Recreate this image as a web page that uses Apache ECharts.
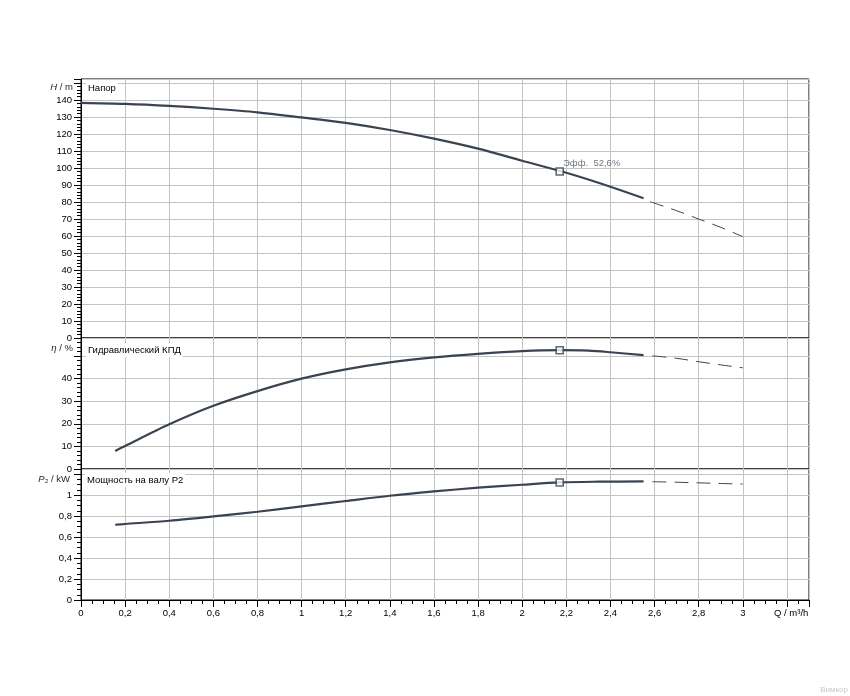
<!DOCTYPE html>
<html>
<head>
<meta charset="utf-8">
<script src="https://cdn.jsdelivr.net/npm/echarts@6/dist/echarts.min.js"></script>
<style>
html,body{margin:0;padding:0;background:#fff;}
#chart{width:850px;height:696px;}
</style>
</head>
<body>
<div id="chart"></div>
<script>
// ---- data ----
const qHead = [0, 0.2, 0.4, 0.6, 0.8, 1.0, 1.2, 1.4, 1.6, 1.8, 2.0, 2.2, 2.4, 2.55];
const head = [138.4, 137.8, 136.6, 134.9, 132.8, 129.8, 126.6, 122.4, 117.3, 111.4, 104.3, 97.2, 89.0, 82.2];
const qHeadExt = [2.58, 2.7, 2.8, 2.9, 3.0];
const headExt = [80.2, 74.9, 70.0, 65.1, 59.6];

const qEff = [0.155, 0.2, 0.4, 0.6, 0.8, 1.0, 1.2, 1.4, 1.6, 1.8, 2.0, 2.17, 2.3, 2.4, 2.55];
const eff = [8.0, 10.2, 19.8, 28.0, 34.5, 40.0, 44.1, 47.2, 49.4, 51.0, 52.2, 52.6, 52.4, 51.7, 50.4];
const qEffExt = [2.59, 2.7, 2.8, 2.9, 3.0];
const effExt = [50.1, 49.0, 47.5, 46.1, 44.8];

const qPow = [0.155, 0.2, 0.4, 0.6, 0.8, 1.0, 1.2, 1.4, 1.6, 1.8, 2.0, 2.17, 2.35, 2.55];
const pow = [0.717, 0.724, 0.755, 0.796, 0.841, 0.892, 0.943, 0.993, 1.034, 1.07, 1.098, 1.12, 1.127, 1.13];
const qPowExt = [2.59, 2.7, 2.8, 2.9, 3.0];
const powExt = [1.127, 1.122, 1.116, 1.11, 1.104];

const dutyQ = 2.17;
const dutyHead = 98.0;
const dutyEff = 52.6;
const dutyPow = 1.12;
const dutyLabel = 'Эфф.  52,6%';

const panelTitles = ['Напор', 'Гидравлический КПД', 'Мощность на валу P2'];
const xAxisName = 'Q / m³/h';
const watermark = 'Вимкор';

// ---- helpers ----
const zip = (a, b) => a.map((v, i) => [v, b[i]]);
const fmt = v => String(Math.round(v * 10) / 10).replace('.', ',');
const FONT = "'Liberation Sans', Arial, sans-serif";
const FS = 9.5;
const LINE = '#3a4450';
const GRIDC = '#c4c4c4';

const grids = [
  {left: 81, width: 728, top: 79, height: 259},
  {left: 81, width: 728, top: 338, height: 131},
  {left: 81, width: 728, top: 469, height: 131}
].map(g => Object.assign(g, {show: true, borderColor: '#000', borderWidth: 1}));

function xAx(i, labels) {
  return {
    type: 'value', gridIndex: i, min: 0, max: 3.3, interval: 0.2,
    axisLine: {show: labels, lineStyle: {color: '#000', width: 1}},
    axisTick: {show: labels, length: 7, lineStyle: {color: '#000'}},
    minorTick: {show: labels, splitNumber: 4, length: 4, lineStyle: {color: '#000'}},
    axisLabel: {show: labels, margin: 8, fontSize: FS, color: '#000', fontFamily: FONT,
      formatter: v => (v > 3.05 ? '' : fmt(v))},
    splitLine: {show: true, lineStyle: {color: GRIDC, width: 1}}
  };
}
function yAx(i, max, interval, labelMax, minorSplit) {
  return {
    type: 'value', gridIndex: i, min: 0, max: max, interval: interval,
    axisLine: {show: true, lineStyle: {color: '#000', width: 1}},
    axisTick: {show: true, length: 7, lineStyle: {color: '#000'}},
    minorTick: {show: true, splitNumber: minorSplit, length: 4, lineStyle: {color: '#000'}},
    axisLabel: {margin: 9, fontSize: FS, color: '#000', fontFamily: FONT,
      showMaxLabel: false,
      formatter: v => (v > labelMax + 1e-6 ? '' : fmt(v))},
    splitLine: {show: true, lineStyle: {color: GRIDC, width: 1}}
  };
}

function solid(x, y, data) {
  return {type: 'line', xAxisIndex: x, yAxisIndex: y, data: data, showSymbol: false,
    smooth: 0.3, lineStyle: {color: LINE, width: 2.2}, silent: true, z: 3};
}
function dashed(x, y, data) {
  return {type: 'line', xAxisIndex: x, yAxisIndex: y, data: data, showSymbol: false,
    smooth: 0.3, lineStyle: {color: LINE, width: 1, type: [14, 8]}, silent: true, z: 3};
}
function point(x, y, data, label) {
  return {type: 'scatter', xAxisIndex: x, yAxisIndex: y, data: data, symbol: 'rect', symbolSize: 7,
    itemStyle: {color: '#fff', borderColor: LINE, borderWidth: 1.6}, z: 5, silent: true,
    label: label ? {show: true, position: 'right', offset: [-6, -8], formatter: label,
      fontSize: FS, color: '#4a5260', fontFamily: FONT} : {show: false}};
}

function txt(x, y, text, opts) {
  return {type: 'text', x: x, y: y, z: 10, silent: true,
    style: Object.assign({text: text, font: FS + 'px ' + FONT, fill: '#000',
      align: 'left', verticalAlign: 'middle'}, opts || {})};
}
const richI = {i: {fontStyle: 'italic', fontSize: FS, fontFamily: FONT, fill: '#1a2030'}};

const chart = echarts.init(document.getElementById('chart'), null, {renderer: 'canvas'});
chart.setOption({
  animation: false,
  backgroundColor: '#fff',
  grid: grids,
  xAxis: [xAx(0, false), xAx(1, false), xAx(2, true)],
  yAxis: [yAx(0, 152.4, 10, 140, 5), yAx(1, 58, 10, 40, 5), yAx(2, 1.248, 0.2, 1.0, 4)],
  series: [
    solid(0, 0, zip(qHead, head)),
    dashed(0, 0, zip(qHeadExt, headExt)),
    point(0, 0, [[dutyQ, dutyHead]], dutyLabel),
    solid(1, 1, zip(qEff, eff)),
    dashed(1, 1, zip(qEffExt, effExt)),
    point(1, 1, [[dutyQ, dutyEff]], null),
    solid(2, 2, zip(qPow, pow)),
    dashed(2, 2, zip(qPowExt, powExt)),
    point(2, 2, [[dutyQ, dutyPow]], null)
  ],
  graphic: [
    txt(86, 88, panelTitles[0], {backgroundColor: '#fff', padding: [2, 2, 2, 2]}),
    txt(86, 350, panelTitles[1], {backgroundColor: '#fff', padding: [2, 2, 2, 2]}),
    txt(85, 480, panelTitles[2], {backgroundColor: '#fff', padding: [2, 2, 2, 2]}),
    txt(73, 87, '{i|H} / m', {align: 'right', fill: '#1a2030', rich: richI}),
    txt(73, 348, '{i|η} / %', {align: 'right', fill: '#1a2030', rich: richI}),
    txt(70, 479, '{i|P}₂ / kW', {align: 'right', fill: '#1a2030', rich: richI}),
    txt(774, 613, xAxisName),
    txt(848, 690, watermark, {align: 'right', fill: '#c8c8c8', font: '8px ' + FONT})
  ]
});
</script>
</body>
</html>
